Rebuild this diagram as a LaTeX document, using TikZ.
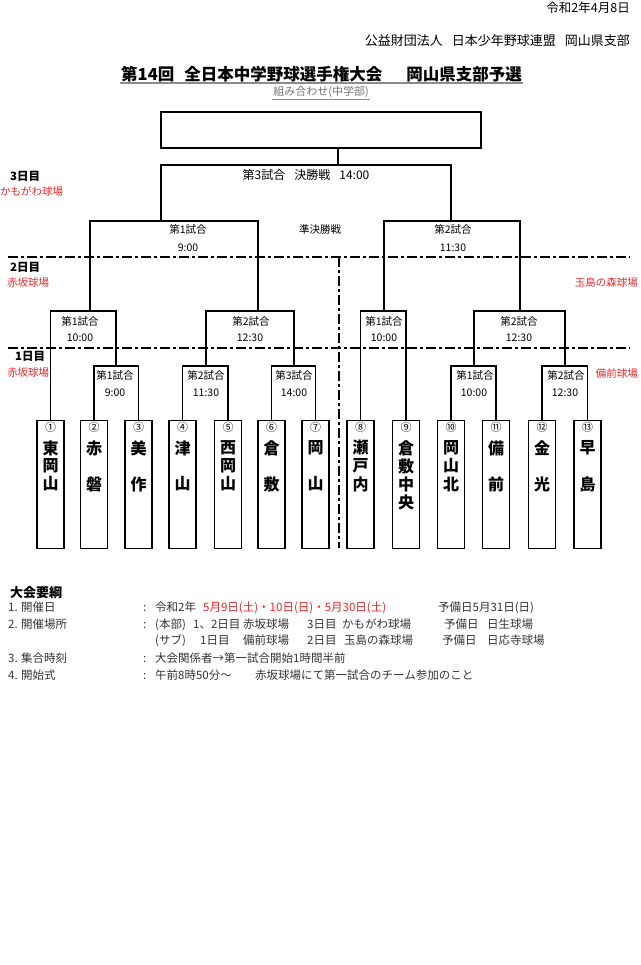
\documentclass[tikz,border=0pt]{standalone}
\usepackage{fontspec}
\setmainfont{Noto Sans CJK JP}
\usetikzlibrary{calc,positioning}
\definecolor{venuered}{RGB}{230,40,40}
\newcommand{\boxtop}{420}
\newcommand{\finallevel}{165}
\newcommand{\semilevel}{221}
\newcommand{\qflevel}{311}
\newcommand{\dayonelevel}{366}
\newcommand{\lineone}{257}
\newcommand{\linetwo}{348}
\newcommand{\labone}{375}
\newcommand{\timeone}{393}
\newcommand{\labtwo}{321}
\newcommand{\timetwo}{338}
\newcommand{\colonpos}{143}
\newcommand{\contentpos}{155}

\begin{document}
\begin{tikzpicture}[x=1pt,y=-1pt]

\tikzstyle{team}=[draw,line width=1.1pt,minimum width=27pt,minimum height=128pt,anchor=north,inner sep=0pt]
\tikzstyle{num}=[inner sep=0pt,font=\fontsize{11}{11}\selectfont]
\tikzstyle{tchar}=[inner sep=0pt,font=\bfseries\fontsize{16}{16}\selectfont]
\tikzstyle{match}=[inner sep=0pt,font=\fontsize{10.5}{12}\selectfont]
\tikzstyle{bracket}=[line width=1.1pt]
\tikzstyle{dayline}=[line width=2pt,dash pattern=on 10pt off 3pt on 3pt off 3pt]
\tikzstyle{daylab}=[inner sep=0pt,anchor=west,font=\bfseries\fontsize{11.5}{12}\selectfont]
\tikzstyle{venue}=[inner sep=0pt,text=venuered,font=\fontsize{10.5}{12}\selectfont]
\tikzstyle{body}=[inner sep=0pt,anchor=west,text height=9pt,text depth=2.5pt,text=black!80,font=\fontsize{11.5}{13}\selectfont]

\useasboundingbox (0,0) rectangle (640,965);

%% header
\node (date) [inner sep=0pt,anchor=east,font=\fontsize{12.5}{14}\selectfont] at (630,8) {令和2年4月8日};
\node (org) [inner sep=0pt,anchor=east,font=\fontsize{13}{14}\selectfont] at (630,41) {公益財団法人\hspace{9pt}日本少年野球連盟\hspace{9pt}岡山県支部};
\node (title) [inner sep=1pt,font=\bfseries\fontsize{16.5}{18}\selectfont] at (321.5,74) {第14回\hspace{10pt}全日本中学野球選手権大会\hspace{24pt}岡山県支部予選};
\draw[black!45,line width=1.5pt] (title.south west) -- (title.south east);
\node (sub) [inner sep=1pt,text=black!55,font=\fontsize{11}{12}\selectfont] at (321,92) {組み合わせ(中学部)};
\draw[black!45,line width=0.6pt] (sub.south west) -- (sub.south east);

%% champion box
\node (champ) [draw,line width=2pt,minimum width=320pt,minimum height=36pt,inner sep=0pt] at (321,130) {};

%% thirteen teams
\node (t1) [team] at (50.5,\boxtop) {};
\node (t2) [team] at (94,\boxtop) {};
\node (t3) [team] at (138.5,\boxtop) {};
\node (t4) [team] at (182.5,\boxtop) {};
\node (t5) [team] at (228,\boxtop) {};
\node (t6) [team] at (271.5,\boxtop) {};
\node (t7) [team] at (315.5,\boxtop) {};
\node (t8) [team] at (360.5,\boxtop) {};
\node (t9) [team] at (406,\boxtop) {};
\node (t10) [team] at (451,\boxtop) {};
\node (t11) [team] at (496,\boxtop) {};
\node (t12) [team] at (542,\boxtop) {};
\node (t13) [team] at (587.5,\boxtop) {};

%% numbers on top of the boxes
\node (n1) [num] at ($(t1.north)+(0,7)$) {①};
\node (n2) [num] at ($(t2.north)+(0,7)$) {②};
\node (n3) [num] at ($(t3.north)+(0,7)$) {③};
\node (n4) [num] at ($(t4.north)+(0,7)$) {④};
\node (n5) [num] at ($(t5.north)+(0,7)$) {⑤};
\node (n6) [num] at ($(t6.north)+(0,7)$) {⑥};
\node (n7) [num] at ($(t7.north)+(0,7)$) {⑦};
\node (n8) [num] at ($(t8.north)+(0,7)$) {⑧};
\node (n9) [num] at ($(t9.north)+(0,7)$) {⑨};
\node (n10) [num] at ($(t10.north)+(0,7)$) {⑩};
\node (n11) [num] at ($(t11.north)+(0,7)$) {⑪};
\node (n12) [num] at ($(t12.north)+(0,7)$) {⑫};
\node (n13) [num] at ($(t13.north)+(0,7)$) {⑬};

%% team names, one character per row
\foreach \p/\c in {1/東,2/岡,3/山} \node (t1c\p) [tchar] at ($(t1.north)+(0,10+18*\p)$) {\c};
\foreach \p/\c in {1/赤,3/磐} \node (t2c\p) [tchar] at ($(t2.north)+(0,10+18*\p)$) {\c};
\foreach \p/\c in {1/美,3/作} \node (t3c\p) [tchar] at ($(t3.north)+(0,10+18*\p)$) {\c};
\foreach \p/\c in {1/津,3/山} \node (t4c\p) [tchar] at ($(t4.north)+(0,10+18*\p)$) {\c};
\foreach \p/\c in {1/西,2/岡,3/山} \node (t5c\p) [tchar] at ($(t5.north)+(0,10+18*\p)$) {\c};
\foreach \p/\c in {1/倉,3/敷} \node (t6c\p) [tchar] at ($(t6.north)+(0,10+18*\p)$) {\c};
\foreach \p/\c in {1/岡,3/山} \node (t7c\p) [tchar] at ($(t7.north)+(0,10+18*\p)$) {\c};
\foreach \p/\c in {1/瀬,2/戸,3/内} \node (t8c\p) [tchar] at ($(t8.north)+(0,10+18*\p)$) {\c};
\foreach \p/\c in {1/倉,2/敷,3/中,4/央} \node (t9c\p) [tchar] at ($(t9.north)+(0,10+18*\p)$) {\c};
\foreach \p/\c in {1/岡,2/山,3/北} \node (t10c\p) [tchar] at ($(t10.north)+(0,10+18*\p)$) {\c};
\foreach \p/\c in {1/備,3/前} \node (t11c\p) [tchar] at ($(t11.north)+(0,10+18*\p)$) {\c};
\foreach \p/\c in {1/金,3/光} \node (t12c\p) [tchar] at ($(t12.north)+(0,10+18*\p)$) {\c};
\foreach \p/\c in {1/早,3/島} \node (t13c\p) [tchar] at ($(t13.north)+(0,10+18*\p)$) {\c};

%% junctions of the bracket
\coordinate (d1) at (116,\dayonelevel);
\coordinate (d2) at (206,\dayonelevel);
\coordinate (d3) at (294,\dayonelevel);
\coordinate (d4) at (474,\dayonelevel);
\coordinate (d5) at (565,\dayonelevel);
\coordinate (q1) at (90,\qflevel);
\coordinate (q2) at (258,\qflevel);
\coordinate (q3) at (384,\qflevel);
\coordinate (q4) at (520,\qflevel);
\coordinate (s1) at (161,\semilevel);
\coordinate (s2) at (451,\semilevel);
\coordinate (fj) at (338,\finallevel);

%% day 1
\draw[bracket] (t2.north) |- (d1) -| (t3.north);
\draw[bracket] (t4.north) |- (d2) -| (t5.north);
\draw[bracket] (t6.north) |- (d3) -| (t7.north);
\draw[bracket] (t10.north) |- (d4) -| (t11.north);
\draw[bracket] (t12.north) |- (d5) -| (t13.north);
%% day 2
\draw[bracket] (t1.north) |- (q1) -| (d1);
\draw[bracket] (d2) |- (q2) -| (d3);
\draw[bracket] (t8.north) |- (q3) -| (t9.north);
\draw[bracket] (d4) |- (q4) -| (d5);
%% semifinals and final
\draw[bracket] (q1) |- (s1) -| (q2);
\draw[bracket] (q3) |- (s2) -| (q4);
\draw[bracket] (s1) |- (fj) -| (s2);
\draw[bracket] (fj) -- (fj |- champ.south);

%% match labels
\node (fin) [inner sep=0pt,font=\fontsize{12}{13}\selectfont] at (306,175) {第3試合\hspace{9pt}決勝戦\hspace{9pt}14:00};
\node (semi) [match] at (320,229) {準決勝戦};
\node (s1lab) [match] at (188,229) {第1試合};
\node (s1time) [match] at (188,248) {9:00};
\node (s2lab) [match] at (453,229) {第2試合};
\node (s2time) [match] at (453,248) {11:30};
\node (q1lab) [match] at (80,\labtwo) {第1試合};
\node (q1time) [match] at (80,\timetwo) {10:00};
\node (q2lab) [match] at (251,\labtwo) {第2試合};
\node (q2time) [match] at (250,\timetwo) {12:30};
\node (q3lab) [match] at (384,\labtwo) {第1試合};
\node (q3time) [match] at (384,\timetwo) {10:00};
\node (q4lab) [match] at (519,\labtwo) {第2試合};
\node (q4time) [match] at (519,\timetwo) {12:30};
\node (d1lab) [match] at (115,\labone) {第1試合};
\node (d1time) [match] at (115,\timeone) {9:00};
\node (d2lab) [match] at (206,\labone) {第2試合};
\node (d2time) [match] at (206,\timeone) {11:30};
\node (d3lab) [match] at (294,\labone) {第3試合};
\node (d3time) [match] at (294,\timeone) {14:00};
\node (d4lab) [match] at (475,\labone) {第1試合};
\node (d4time) [match] at (474,\timeone) {10:00};
\node (d5lab) [match] at (566,\labone) {第2試合};
\node (d5time) [match] at (565,\timeone) {12:30};

%% day separators
\coordinate (la) at (8,\lineone);
\coordinate (lb) at (630,\lineone);
\coordinate (lc) at (8,\linetwo);
\coordinate (ld) at (630,\linetwo);
\coordinate (vtop) at (339,\lineone);
\coordinate (vbot) at (339,548);
\draw[dayline] (la) -- (lb);
\draw[dayline] (lc) -- (ld);
\draw[dayline] (vtop) -- (vbot);

%% days and grounds
\node (day3) [daylab] at (10,176) {3日目};
\node (g3) [venue,anchor=west] at (0,192) {かもがわ球場};
\node (day2) [daylab] at (10,267) {2日目};
\node (g2) [venue,anchor=west] at (7,283) {赤坂球場};
\node (g2b) [venue,anchor=east] at (638,283) {玉島の森球場};
\node (day1) [daylab] at (15,356) {1日目};
\node (g1) [venue,anchor=west] at (7,373) {赤坂球場};
\node (g1b) [venue,anchor=east] at (638,374) {備前球場};

%% outline of the tournament
\node (yoko) [inner sep=0pt,anchor=west,font=\bfseries\fontsize{13}{14}\selectfont] at (10,593) {大会要綱};
\node (r1) [body] at (8,608) {1. 開催日};
\node (r1c) [body] at (\colonpos,608) {:};
\node (r1a) [body] at (\contentpos,608) {令和2年};
\node (r1b) [body,text=venuered] at (203,608) {5月9日(土)・10日(日)・5月30日(土)};
\node (r1d) [body] at (438,608) {予備日5月31日(日)};
\node (r2) [body] at (8,625) {2. 開催場所};
\node (r2c) [body] at (\colonpos,625) {:};
\node (r2a) [body] at (\contentpos,625) {(本部)};
\node (r2b) [body] at (193,625) {1、2日目};
\node (r2d) [body] at (243,625) {赤坂球場};
\node (r2e) [body] at (307,625) {3日目};
\node (r2f) [body] at (342,625) {かもがわ球場};
\node (r2g) [body] at (444,625) {予備日};
\node (r2h) [body] at (487,625) {日生球場};
\node (r3a) [body] at (\contentpos,641) {(サブ)};
\node (r3b) [body] at (200,641) {1日目};
\node (r3d) [body] at (243,641) {備前球場};
\node (r3e) [body] at (307,641) {2日目};
\node (r3f) [body] at (344,641) {玉島の森球場};
\node (r3g) [body] at (442,641) {予備日};
\node (r3h) [body] at (487,641) {日応寺球場};
\node (r4) [body] at (8,659) {3. 集合時刻};
\node (r4c) [body] at (\colonpos,659) {:};
\node (r4a) [body] at (\contentpos,659) {大会関係者→第一試合開始1時間半前};
\node (r5) [body] at (8,676) {4. 開始式};
\node (r5c) [body] at (\colonpos,676) {:};
\node (r5a) [body] at (\contentpos,676) {午前8時50分～};
\node (r5b) [body] at (255,676) {赤坂球場にて第一試合のチーム参加のこと};

\end{tikzpicture}
\end{document}
